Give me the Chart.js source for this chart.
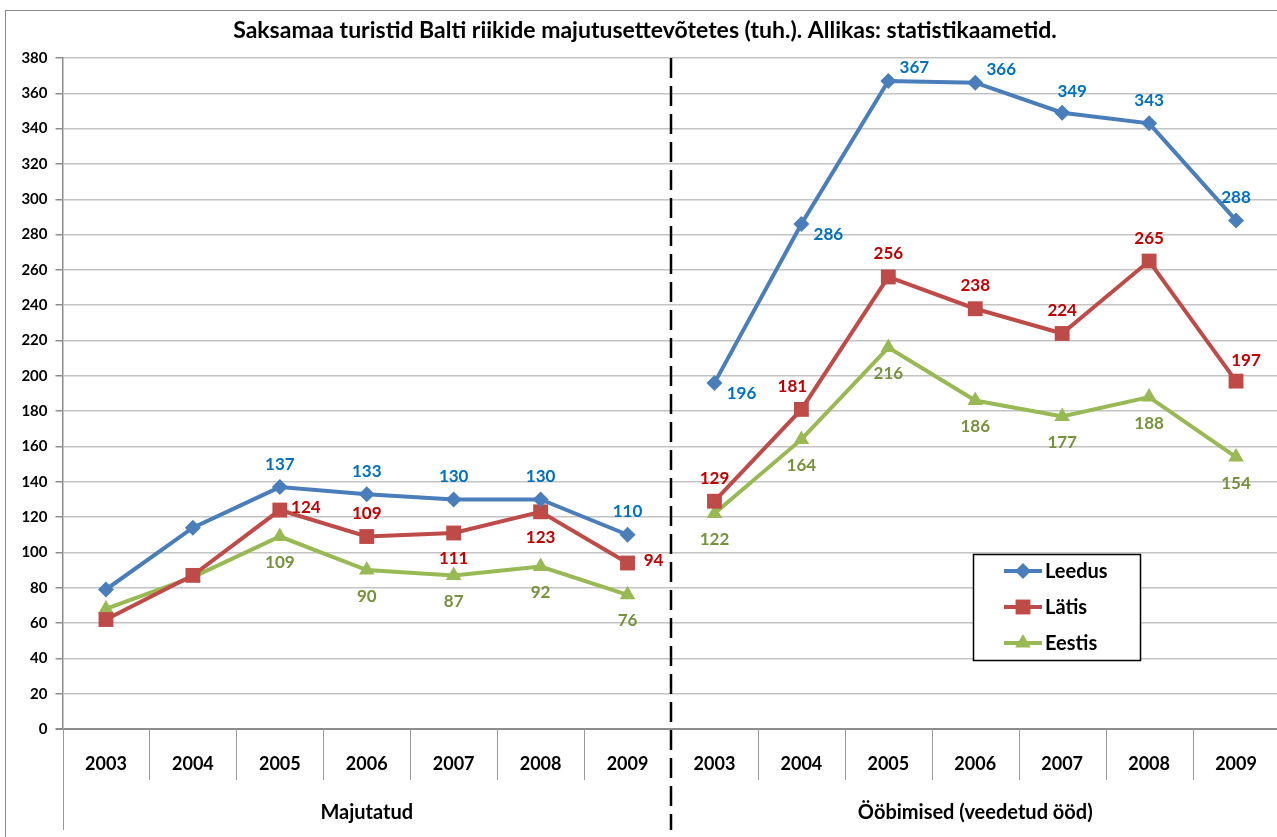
<!DOCTYPE html>
<html>
<head>
<meta charset="utf-8">
<script src="https://cdn.jsdelivr.net/npm/chart.js@4.4.1/dist/chart.umd.min.js"></script>
<style>
html, body { margin: 0; padding: 0; overflow: hidden; background: #fff; }
#wrap { width: 1290px; height: 837px; }
</style>
</head>
<body>
<div id="wrap"><canvas id="myChart" width="1290" height="837"></canvas></div>
<script>
const titleText = "Saksamaa turistid Balti riikide majutusettevõtetes (tuh.). Allikas: statistikaametid.";
const years = ["2003", "2004", "2005", "2006", "2007", "2008", "2009"];
const groupNames = ["Majutatud", "Ööbimised (veedetud ööd)"];
const seriesNames = ["Leedus", "Lätis", "Eestis"];

const leedusMajutatud = [79, 114, 137, 133, 130, 130, 110];
const leedusOobimised = [196, 286, 367, 366, 349, 343, 288];
const latisMajutatud = [62, 87, 124, 109, 111, 123, 94];
const latisOobimised = [129, 181, 256, 238, 224, 265, 197];
const eestisMajutatud = [68, 86, 109, 90, 87, 92, 76];
const eestisOobimised = [122, 164, 216, 186, 177, 188, 154];

const yTicks = { min: 0, max: 380, step: 20 };

// where each value label sits relative to its point (null = no label)
const leedusPlace = [null, null, "t", "t", "t", "t", "t", "br", "br", "tr", "tr", "tt", "t", "t"];
const latisPlace = [null, null, "r", "t", "b", "b", "r", "t", "tl", "t", "t", "t", "t", "tt"];
const eestisPlace = [null, null, "b", "b", "b", "b", "b", "b", "b", "b", "b", "b", "b", "b"];
const offsets = { t: [0, -23], b: [0, 26], r: [26, -3], br: [27, 11], tr: [26, -13], tt: [10, -21], tl: [-9, -23] };

const FONT = "Lato, 'Noto Sans', sans-serif";
const labels = years.concat(years);

const datasets = [
    {
        label: seriesNames[0],
        data: leedusMajutatud.concat(leedusOobimised),
        borderColor: "#4A7EBB",
        backgroundColor: "#4A7EBB",
        pointStyle: "rectRot",
        pointRadius: 8,
        textColor: "#0070C0",
        place: leedusPlace
    },
    {
        label: seriesNames[1],
        data: latisMajutatud.concat(latisOobimised),
        borderColor: "#BE4B48",
        backgroundColor: "#BE4B48",
        pointStyle: "rect",
        pointRadius: 10.5,
        textColor: "#C00000",
        place: latisPlace
    },
    {
        label: seriesNames[2],
        data: eestisMajutatud.concat(eestisOobimised),
        borderColor: "#98B954",
        backgroundColor: "#98B954",
        pointStyle: "triangle",
        pointRadius: 9,
        textColor: "#76923C",
        place: eestisPlace
    }
];
datasets.forEach((d) => {
    d.borderWidth = 4;
    d.pointBorderWidth = 0;
    d.pointHoverRadius = d.pointRadius;
    d.tension = 0;
    // break the line between the two groups
    d.segment = { borderColor: (ctx) => ctx.p0DataIndex === years.length - 1 ? "rgba(0,0,0,0)" : undefined };
});

const extras = {
    id: "extras",
    beforeDraw(chart) {
        const ctx = chart.ctx;
        ctx.save();
        ctx.fillStyle = "#fff";
        ctx.fillRect(0, 0, chart.width, chart.height);
        ctx.strokeStyle = "#8a8a8a";
        ctx.lineWidth = 1;
        ctx.strokeRect(5.5, 10.5, chart.width + 10, chart.height);
        ctx.fillStyle = "#000";
        ctx.font = "bold 23px " + FONT;
        ctx.textAlign = "center";
        ctx.textBaseline = "middle";
        ctx.fillText(titleText, 645, 31);
        ctx.restore();
    },
    afterDraw(chart) {
        const ctx = chart.ctx;
        const x = chart.scales.x;
        const area = chart.chartArea;
        const n = labels.length;
        const w = (area.right - area.left) / n;
        ctx.save();

        // category separators
        for (let i = 0; i <= n; i++) {
            const px = Math.round(area.left + i * w) + 0.5;
            if (i === years.length) continue;
            ctx.beginPath();
            ctx.strokeStyle = "#9a9a9a";
            ctx.lineWidth = 1;
            ctx.moveTo(px, area.bottom);
            ctx.lineTo(px, (i === 0 || i === n) ? 830 : 780);
            ctx.stroke();
        }
        // dashed divider
        const mid = area.left + years.length * w;
        ctx.beginPath();
        ctx.setLineDash([20, 8]);
        ctx.strokeStyle = "#000";
        ctx.lineWidth = 2.5;
        ctx.moveTo(mid, area.top);
        ctx.lineTo(mid, 830);
        ctx.stroke();
        ctx.setLineDash([]);

        // year and group labels
        ctx.fillStyle = "#000";
        ctx.textAlign = "center";
        ctx.textBaseline = "middle";
        ctx.font = "bold 18px " + FONT;
        labels.forEach((lab, i) => ctx.fillText(lab, x.getPixelForValue(i), 764));
        ctx.font = "bold 20px " + FONT;
        groupNames.forEach((g, k) => {
            ctx.fillText(g, area.left + (k * years.length + years.length / 2) * w, 813);
        });

        // value labels
        ctx.font = "bold 17px " + FONT;
        chart.data.datasets.forEach((ds, di) => {
            const meta = chart.getDatasetMeta(di);
            ds.data.forEach((v, i) => {
                const p = ds.place[i];
                if (!p) return;
                const el = meta.data[i];
                ctx.fillStyle = ds.textColor;
                ctx.fillText(String(v), el.x + offsets[p][0], el.y + offsets[p][1]);
            });
        });

        // legend
        const lx = 973, ly = 554;
        ctx.fillStyle = "#fff";
        ctx.fillRect(lx, ly, 167, 106);
        ctx.strokeStyle = "#000";
        ctx.lineWidth = 1.5;
        ctx.strokeRect(lx + 0.5, ly + 0.5, 167, 106);
        chart.data.datasets.forEach((ds, di) => {
            const ry = 571 + di * 36;
            ctx.beginPath();
            ctx.strokeStyle = ds.borderColor;
            ctx.lineWidth = 4;
            ctx.moveTo(1004, ry);
            ctx.lineTo(1042, ry);
            ctx.stroke();
            ctx.fillStyle = ds.backgroundColor;
            Chart.helpers.drawPoint(ctx, { pointStyle: ds.pointStyle, radius: ds.pointRadius, rotation: 0, borderWidth: 0 }, 1023, ry);
            ctx.fillStyle = "#000";
            ctx.textAlign = "left";
            ctx.font = "bold 20px " + FONT;
            ctx.fillText(ds.label, 1045, ry + 1);
        });
        ctx.restore();
    }
};

function renderGrafica() {
    const myChart = document.getElementById("myChart");
    new Chart(myChart, {
        type: "line",
        data: { labels, datasets },
        options: {
            responsive: false,
            animation: false,
            devicePixelRatio: 1,
            layout: { padding: { left: 0, top: 58, right: 2.5, bottom: 108 } },
            plugins: { legend: { display: false }, title: { display: false }, tooltip: { enabled: false } },
            scales: {
                x: { display: false, offset: true },
                y: {
                    min: yTicks.min,
                    max: yTicks.max,
                    afterFit: (scale) => { scale.width = 62.5; },
                    ticks: {
                        stepSize: yTicks.step,
                        color: "#000",
                        padding: 8,
                        font: { family: FONT, size: 15, weight: "bold" }
                    },
                    grid: {
                        color: (c) => c.tick && c.tick.value === 0 ? "#8c8c8c" : "#c4c4c4",
                        lineWidth: (c) => c.tick && c.tick.value === 0 ? 2 : 1.5,
                        tickLength: 7,
                        tickColor: "#8c8c8c"
                    },
                    border: { color: "#8c8c8c", width: 1.5 }
                }
            }
        },
        plugins: [extras]
    });
}

document.fonts.load("bold 16px Lato").then(renderGrafica, renderGrafica);
</script>
</body>
</html>
